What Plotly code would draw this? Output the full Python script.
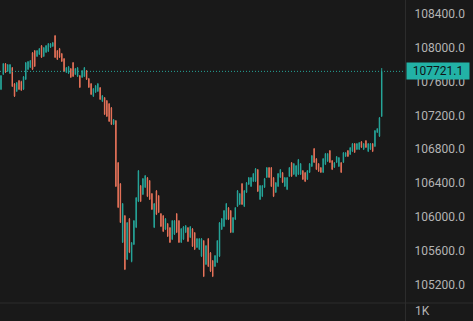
import plotly.graph_objects as go

# ---- data (price values) ----
opens = [107510,107688,107810,107724,107700,107763,107573,107487,107609,107600,
         107510,107629,107747,107771,107940,107964,107901,107925,108023,107901,
         107949,107960,108008,108020,108140,107964,107988,107929,107869,107712,
         107700,107751,107822,107688,107664,107668,107653,107664,107727,107633,
         107573,107428,107475,107487,107526,107368,107408,107372,107336,107289,
         107096,107135,106638,106389,105699,106010,105498,105975,105471,105675,
         105876,106184,106366,106267,106350,106461,106425,106271,105876,106306,
         106247,106034,106010,105853,105916,105868,105734,105794,106034,105951,
         105699,105734,105817,105868,105758,105856,105809,105640,105616,105533,
         105714,105438,105738,105572,105478,105415,105462,105533,105853,105888,
         105971,106105,106070,105817,105971,106125,106149,106389,106125,106291,
         106386,106362,106421,106421,106555,106208,106243,106350,106469,106579,
         106579,106461,106291,106362,106469,106520,106362,106326,106481,106638,
         106504,106481,106504,106504,106543,106520,106445,106528,106599,106804,
         106685,106626,106579,106528,106622,106658,106780,106662,106587,106646,
         106599,106638,106646,106717,106780,106741,106776,106863,106800,106800,
         106886,106800,106898,106776,106800,106863,106835,107001,106954,107190]
highs = [107678,107820,107820,107808,107808,107773,107583,107595,107619,107610,
         107666,107832,107844,107856,107950,107974,107974,107998,108033,108010,
         108033,108057,108057,108069,108152,107974,107998,107939,107879,107773,
         107785,107761,107832,107761,107773,107678,107737,107773,107737,107643,
         107583,107524,107560,107583,107536,107441,107418,107382,107346,107299,
         107157,107145,106648,106399,106163,106020,105938,105985,105701,105961,
         106233,106553,106376,106459,106494,106471,106435,106281,106163,106316,
         106257,106044,106020,105985,105926,105878,105961,105961,106044,105961,
         105866,105890,105902,105878,105890,105866,105819,105748,105748,105748,
         105724,105665,105748,105582,105488,105547,105724,105938,105985,106080,
         106163,106115,106080,105997,106115,106316,106281,106399,106316,106411,
         106471,106471,106518,106577,106565,106376,106376,106459,106589,106589,
         106589,106471,106411,106518,106565,106530,106471,106471,106589,106648,
         106636,106612,106684,106636,106553,106530,106553,106636,106731,106814,
         106695,106636,106589,106695,106755,106755,106790,106672,106648,106719,
         106707,106648,106766,106766,106790,106825,106873,106873,106873,106885,
         106896,106873,106908,106873,106873,106873,107027,107050,107181,107760]
lows = [107500,107678,107702,107714,107690,107536,107418,107477,107500,107490,
        107500,107619,107737,107761,107737,107773,107891,107915,107879,107891,
        107939,107950,107998,108010,107879,107856,107879,107832,107714,107702,
        107690,107643,107654,107678,107654,107524,107643,107654,107619,107524,
        107441,107418,107465,107477,107382,107358,107204,107181,107122,107086,
        107086,106352,106103,105926,105689,105369,105488,105570,105461,105665,
        105866,106174,106174,106257,106340,106233,106198,106080,105866,106020,
        106044,105878,105819,105843,105760,105689,105724,105784,105807,105689,
        105689,105724,105807,105701,105748,105642,105606,105630,105606,105523,
        105286,105428,105405,105346,105286,105405,105452,105523,105843,105878,
        105961,105961,105807,105807,105961,106115,106139,106139,106115,106281,
        106376,106352,106411,106411,106293,106198,106233,106340,106459,106459,
        106352,106233,106281,106352,106459,106399,106352,106316,106471,106471,
        106494,106471,106494,106494,106435,106411,106435,106518,106589,106636,
        106553,106530,106518,106518,106612,106648,106636,106553,106577,106636,
        106589,106518,106636,106707,106707,106731,106766,106755,106790,106790,
        106814,106790,106814,106766,106790,106766,106825,106991,106944,107181]
closes = [107668,107810,107712,107798,107798,107546,107428,107585,107510,107500,
          107656,107822,107834,107846,107747,107783,107964,107988,107889,108000,
          108023,108047,108047,108059,107889,107866,107889,107842,107724,107763,
          107775,107653,107664,107751,107763,107534,107727,107763,107629,107534,
          107451,107514,107550,107573,107392,107431,107214,107191,107132,107096,
          107147,106362,106113,105936,106153,105379,105928,105580,105691,105951,
          106223,106543,106184,106449,106484,106243,106208,106090,106153,106030,
          106054,105888,105829,105975,105770,105699,105951,105951,105817,105699,
          105856,105880,105892,105711,105880,105652,105616,105738,105738,105738,
          105296,105655,105415,105356,105296,105537,105714,105928,105975,106070,
          106153,105971,105817,105987,106105,106306,106271,106149,106306,106401,
          106461,106461,106508,106567,106303,106366,106366,106449,106579,106469,
          106362,106243,106401,106508,106555,106409,106461,106461,106579,106481,
          106626,106602,106674,106626,106445,106421,106543,106626,106721,106646,
          106563,106540,106528,106685,106745,106745,106646,106563,106638,106709,
          106697,106528,106756,106756,106717,106815,106863,106765,106863,106875,
          106824,106863,106824,106863,106863,106776,107017,107040,107171,107721.1]
positions = list(range(len(closes)))
last_price = 107721.1
tick_values = [105200, 105600, 106000, 106400, 106800, 107200, 107600, 108000, 108400]
tick_labels = [f"{v:.1f}" for v in tick_values]

UP = "#26a69a"
DOWN = "#e8735a"
BG = "#191919"
TXT = "#b4b4b4"
SEP = "#2c2c2c"

W, H = 473, 321
px_right = 405.5
plot_bottom = 303

fig = go.Figure(go.Candlestick(
    x=positions, open=opens, high=highs, low=lows, close=closes,
    increasing=dict(line=dict(color=UP, width=1), fillcolor=UP),
    decreasing=dict(line=dict(color=DOWN, width=1), fillcolor=DOWN),
    whiskerwidth=0, showlegend=False, hoverinfo="skip",
))

fig.update_layout(
    width=W, height=H, margin=dict(l=0, r=0, t=0, b=0),
    paper_bgcolor=BG, plot_bgcolor=BG,
    boxgap=0.7,
    font=dict(family="Roboto, 'Liberation Sans', sans-serif", size=12, color=TXT),
    xaxis=dict(domain=[0, px_right / W], range=[-0.444, 179.56],
               showgrid=False, zeroline=False, showticklabels=False,
               rangeslider=dict(visible=False), fixedrange=True),
    yaxis=dict(domain=[(H - plot_bottom) / H, 1], range=[104979, 108566],
               side="right", showgrid=False, zeroline=False, ticks="",
               tickvals=tick_values, ticktext=tick_labels,
               ticklabelstandoff=8, tickfont=dict(size=12, color=TXT)),
    shapes=[
        dict(type="line", xref="paper", yref="y", x0=0, x1=px_right / W,
             y0=last_price, y1=last_price,
             line=dict(color=UP, width=1, dash="1px,2px")),
        dict(type="line", xref="paper", yref="paper", x0=px_right / W, x1=px_right / W,
             y0=0, y1=1, line=dict(color=SEP, width=1)),
        dict(type="line", xref="paper", yref="paper", x0=0, x1=1,
             y0=(H - plot_bottom) / H, y1=(H - plot_bottom) / H,
             line=dict(color=SEP, width=1)),
    ],
    annotations=[
        dict(xref="paper", yref="y", x=px_right / W, y=last_price,
             xanchor="left", yanchor="middle", showarrow=False,
             text=f"{last_price:.1f}", bgcolor="#22b2a6",
             font=dict(size=12, color="#101418"),
             width=60, height=14, borderpad=1, align="center"),
        dict(xref="paper", yref="paper", x=413 / W, y=(H - 311) / H,
             xanchor="left", yanchor="middle", showarrow=False,
             text="1K", font=dict(size=12, color=TXT)),
    ],
)

fig.write_html("out.html")
